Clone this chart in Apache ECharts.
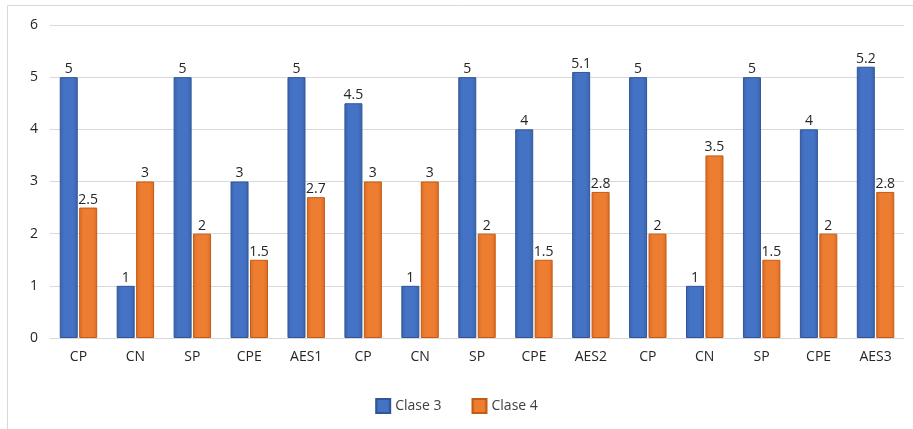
<!DOCTYPE html>
<html>
<head>
<meta charset="utf-8">
<script src="https://cdn.jsdelivr.net/npm/echarts@6/dist/echarts.min.js"></script>
<style>
  html, body { margin: 0; padding: 0; background: #ffffff; }
  #chart { width: 913px; height: 429px; }
</style>
</head>
<body>
<div id="chart"></div>
<script>
const categories = ['CP', 'CN', 'SP', 'CPE', 'AES1', 'CP', 'CN', 'SP', 'CPE', 'AES2', 'CP', 'CN', 'SP', 'CPE', 'AES3'];
const clase3 = [5, 1, 5, 3, 5, 4.5, 1, 5, 4, 5.1, 5, 1, 5, 4, 5.2];
const clase4 = [2.5, 3, 2, 1.5, 2.7, 3, 3, 2, 1.5, 2.8, 2, 3.5, 1.5, 2, 2.8];
const yTicks = { min: 0, max: 6, interval: 1 };

const FONT = '"Open Sans", "Liberation Sans", sans-serif';

function barFill(edge, mid) {
  return new echarts.graphic.LinearGradient(0, 0, 1, 0, [
    { offset: 0, color: edge },
    { offset: 0.25, color: mid },
    { offset: 0.75, color: mid },
    { offset: 1, color: edge }
  ]);
}

const chart = echarts.init(document.getElementById('chart'), null, { renderer: 'canvas' });

const labelStyle = {
  show: true,
  position: 'top',
  distance: 1,
  color: '#262626',
  fontSize: 14,
  fontFamily: FONT
};

chart.setOption({
  animation: false,
  backgroundColor: '#ffffff',
  graphic: [{
    // chart frame: only the top and left edges fall inside the canvas
    type: 'rect',
    shape: { x: 7.5, y: 5.5, width: 930, height: 450 },
    style: { fill: 'none', stroke: '#d9d9d9', lineWidth: 1 },
    silent: true
  }],
  grid: { left: 50, right: 9, top: 25, bottom: 91, containLabel: false },
  legend: {
    bottom: 10,
    left: 'center',
    itemWidth: 14,
    itemHeight: 14,
    itemGap: 30,
    icon: 'rect',
    textStyle: { color: '#404040', fontSize: 14, fontFamily: FONT },
    data: ['Clase 3', 'Clase 4']
  },
  xAxis: {
    type: 'category',
    data: categories,
    axisLine: { show: true, lineStyle: { color: '#d9d9d9' } },
    axisTick: { show: false },
    axisLabel: { color: '#262626', fontSize: 14, fontFamily: FONT, margin: 12, interval: 0 }
  },
  yAxis: {
    type: 'value',
    min: yTicks.min,
    max: yTicks.max,
    interval: yTicks.interval,
    axisLine: { show: false },
    axisTick: { show: false },
    splitLine: { lineStyle: { color: '#d9d9d9', width: 1 } },
    axisLabel: { color: '#262626', fontSize: 14, fontFamily: FONT, margin: 12 }
  },
  series: [
    {
      name: 'Clase 3',
      type: 'bar',
      data: clase3,
      barWidth: 18,
      barGap: '8%',
      itemStyle: {
        color: barFill('#3a63ad', '#4472c4'),
        borderColor: '#2f5597',
        borderWidth: 1
      },
      label: labelStyle
    },
    {
      name: 'Clase 4',
      type: 'bar',
      data: clase4,
      barWidth: 18,
      itemStyle: {
        color: barFill('#d96d26', '#ed7d31'),
        borderColor: '#c55a11',
        borderWidth: 1
      },
      label: labelStyle
    }
  ]
});
</script>
</body>
</html>
